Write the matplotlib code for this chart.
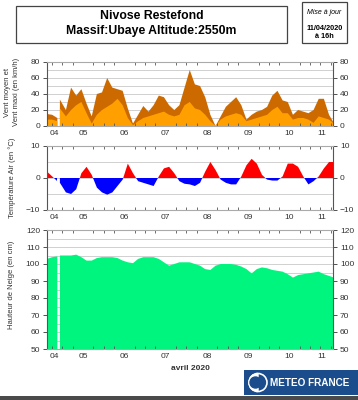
import numpy as np
import matplotlib
matplotlib.use('Agg')
import matplotlib.pyplot as plt
from matplotlib.patches import Rectangle, Circle, Wedge

plt.rcParams['font.family'] = ['Liberation Sans', 'DejaVu Sans']

# heures depuis le 04/04/2020 15h (pas de 3h, une mesure manquante)
hours = [0, 3, 6, 6.5, 7.5] + list(range(11, 168, 3))
nan = np.nan

vent_max = [15, 14, 10, nan, 33, 20, 48, 38, 46, 28, 12, 40, 42, 60, 48, 46,
            44, 22, 3, 14, 25, 18, 26, 38, 36, 26, 20, 26, 48, 70, 52, 50,
            36, 14, 0, 12, 24, 30, 36, 26, 8, 14, 18, 20, 24, 38, 44, 32,
            30, 14, 20, 18, 16, 20, 34, 34, 14, 3]
vent_moyen = [8, 8, 6, nan, 22, 12, 20, 26, 30, 16, 3, 14, 20, 24, 28, 34,
              26, 10, 1, 6, 10, 12, 14, 16, 18, 14, 12, 14, 26, 30, 22, 20,
              14, 6, 0, 8, 12, 14, 16, 14, 6, 8, 10, 12, 14, 20, 24, 16,
              16, 8, 10, 10, 8, 4, 12, 10, 8, 3]
temperature = [2, 0.5, -1, nan, -1.5, -4.5, -5, -3.5, 1.5, 3.5, 1, -3, -4.5,
               -5.2, -4.5, -2.5, -0.5, 4.5, 1.5, -1, -1.5, -2, -2.5, 0.5, 3,
               3.5, 1.5, -1, -1.8, -2, -2.5, -1.5, 2, 5, 2.5, -0.5, -1.5, -2,
               -2, 0.5, 4, 6, 4.5, 1, -0.5, -0.8, -0.8, 0.5, 4.5, 4.5, 3.5,
               0.5, -2, -1, 0.5, 3, 5, 5]
neige = [103, 104, 104.5, nan, 105, 105, 105, 105.5, 104, 102, 102, 103.5,
         104, 104, 104, 103.5, 102, 101, 100.5, 103, 104, 104, 104, 103, 101,
         99, 100, 101, 101, 101, 100, 99, 97, 96.5, 99, 100, 100, 100, 99.5,
         98.5, 97, 94.5, 97, 98, 97.5, 96.5, 96, 95.5, 94, 92, 93.5, 94,
         94.5, 95, 95.5, 94, 93, 92]

jours = ['04', '05', '06', '07', '08', '09', '10', '11']

x = np.array(hours, dtype=float)
vmax = np.array(vent_max)
vmoy = np.array(vent_moyen)
temp = np.array(temperature)
hn = np.array(neige)

xmin, xmax = 0, 166.3

W, H = 358, 400
fig = plt.figure(figsize=(W / 100, H / 100), dpi=100)

def box(l, t, r, b):
    return [l / W, 1 - b / H, (r - l) / W, (b - t) / H]

ax1 = fig.add_axes(box(47, 62, 333, 126))
ax2 = fig.add_axes(box(47, 146, 333, 210))
ax3 = fig.add_axes(box(47, 230, 333, 349))

ax1.fill_between(x, 0, vmax, color='#cc6a00', lw=0)
ax1.fill_between(x, 0, vmoy, color='#ffa000', lw=0)
ax1.set_ylim(0, 80)
ax1.set_yticks(range(0, 81, 20))
for g in range(10, 80, 10):
    ax1.axhline(g, color='#d0d0d0', lw=0.7, zorder=0)

ax2.fill_between(x, 0, temp, where=temp >= 0, interpolate=True, color='#ff0000', lw=0)
ax2.fill_between(x, 0, temp, where=temp <= 0, interpolate=True, color='#0000ff', lw=0)
ax2.set_ylim(-10, 10)
ax2.set_yticks([-10, 0, 10])
for g in (-5, 0, 5):
    ax2.axhline(g, color='#d0d0d0', lw=0.7, zorder=0)

ax3.fill_between(x, 50, hn, color='#00f57e', lw=0)
ax3.set_ylim(50, 120)
ax3.set_yticks(range(50, 121, 10))
for g in range(55, 120, 5):
    ax3.axhline(g, color='#d0d0d0', lw=0.7, zorder=0)

# etiquettes des jours centrees sur la partie visible de chaque jour
pos = []
for k in range(len(jours)):
    d0 = 9 + 24 * (k - 1)
    a, b = max(d0, xmin), min(d0 + 24, xmax)
    pos.append((a + b) / 2)
minor = np.arange(3, xmax, 6)

for ax in (ax1, ax2, ax3):
    ax.set_xlim(xmin, xmax)
    ax.set_xticks(pos)
    ax.set_xticklabels(jours)
    ax.set_xticks(minor, minor=True)
    ax.tick_params(axis='x', which='major', length=0, labelsize=6, colors='#333333', pad=3)
    ax.tick_params(axis='x', which='minor', direction='in', length=2.5, top=True,
                   bottom=True, color='#555555', width=0.6)
    ax.tick_params(axis='y', direction='out', length=3, labelsize=6, left=True,
                   right=True, labelright=True, colors='#333333', width=0.6, pad=2)
    for s in ax.spines.values():
        s.set_color('#555555')
        s.set_linewidth(0.8)
    ax.spines['top'].set_color('#aaaaaa')
    ax.spines['bottom'].set_color('#aaaaaa')

fig.text(8 / W, 1 - 92 / H, 'Vent moyen et', rotation=90, fontsize=5.5,
         ha='center', va='center', color='#333333')
fig.text(17 / W, 1 - 92 / H, 'Vent maxi (en km/h)', rotation=90, fontsize=5.5,
         ha='center', va='center', color='#333333')
fig.text(12 / W, 1 - 178 / H, 'Température Air (en °C)', rotation=90, fontsize=5.5,
         ha='center', va='center', color='#333333')
fig.text(12 / W, 1 - 285 / H, 'Hauteur de Neige (en cm)', rotation=90, fontsize=5.5,
         ha='center', va='center', color='#333333')
fig.text(190 / W, 1 - 368 / H, 'avril 2020', fontsize=6, fontweight='bold',
         ha='center', va='center', color='#333333')

# cartouche titre
fig.patches.append(Rectangle((16 / W, 1 - 43 / H), 271 / W, 37 / H, transform=fig.transFigure,
                             fill=False, ec='#444444', lw=0.9))
fig.text(151.5 / W, 1 - 16 / H, 'Nivose Restefond', fontsize=8.8, fontweight='bold',
         ha='center', va='center')
fig.text(151.5 / W, 1 - 31 / H, 'Massif:Ubaye Altitude:2550m', fontsize=8.8,
         fontweight='bold', ha='center', va='center')

fig.patches.append(Rectangle((302 / W, 1 - 43 / H), 45 / W, 41 / H, transform=fig.transFigure,
                             fill=False, ec='#444444', lw=0.9))
fig.text(324.5 / W, 1 - 13 / H, 'Mise à jour', fontsize=5, style='italic',
         ha='center', va='center')
fig.text(324.5 / W, 1 - 28 / H, '11/04/2020', fontsize=5.3, fontweight='bold',
         ha='center', va='center')
fig.text(324.5 / W, 1 - 36 / H, 'à 16h', fontsize=5.3, fontweight='bold',
         ha='center', va='center')

# logo
lg = fig.add_axes(box(244, 370, 358, 395))
lg.set_xlim(0, 114)
lg.set_ylim(0, 25)
lg.axis('off')
lg.add_patch(Rectangle((0, 0), 114, 25, color='#1b4c8c'))
lg.add_patch(Wedge((14, 12.5), 9, 90, 270, color='white'))
lg.add_patch(Circle((14, 12.5), 9, fill=False, ec='white', lw=1.2))
lg.add_patch(Circle((11.5, 12.5), 5.5, color='#1b4c8c'))
lg.text(26, 12.5, 'METEO FRANCE', color='white', fontsize=7.2, fontweight='bold',
        ha='left', va='center')

fig.patches.append(Rectangle((0, 0), 1, 4 / H, transform=fig.transFigure,
                             color='#4a4a4a', lw=0))

fig.savefig('out.png', dpi=100)
